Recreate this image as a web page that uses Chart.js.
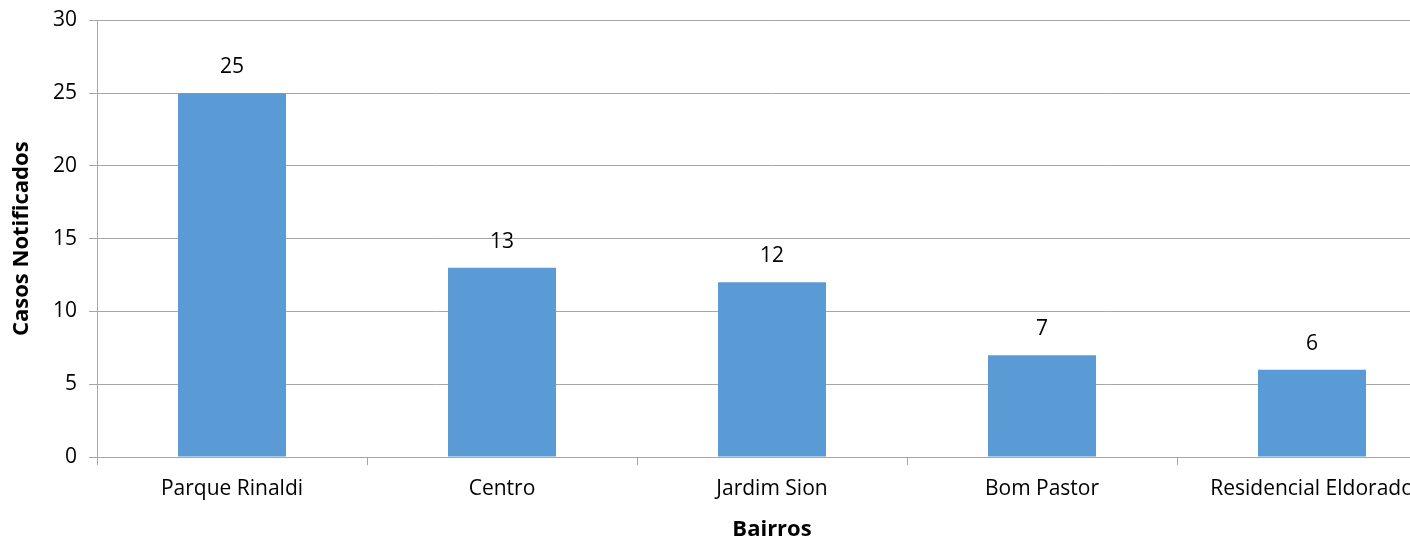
<!DOCTYPE html>
<html>
<head>
<meta charset="utf-8">
<script src="https://cdn.jsdelivr.net/npm/chart.js@4"></script>
<style>
  html, body { margin: 0; padding: 0; background: #fff; overflow: hidden; }
  #wrap { width: 1460px; height: 537px; }
</style>
</head>
<body>
<div id="wrap"><canvas id="myChart"></canvas></div>
<script>
'use strict';

// bairros (categories)
const bairros = ['Parque Rinaldi', 'Centro', 'Jardim Sion', 'Bom Pastor', 'Residencial Eldorado'];
// casos notificados per bairro
const casos = [25, 13, 12, 7, 6];
// y axis range / step
const yMin = 0;
const yMax = 30;
const yStep = 5;

const fontFamily = '"Open Sans", sans-serif';
const gridGray = '#a6a6a6';

// small plugin to write the value above every bar
const valueLabels = {
  id: 'valueLabels',
  afterDatasetsDraw(chart) {
    const ctx = chart.ctx;
    const meta = chart.getDatasetMeta(0);
    ctx.save();
    ctx.fillStyle = '#000';
    ctx.font = '21px ' + fontFamily;
    ctx.textAlign = 'center';
    ctx.textBaseline = 'middle';
    meta.data.forEach(function (bar, i) {
      ctx.fillText(chart.data.datasets[0].data[i], bar.x, bar.y - 26);
    });
    ctx.restore();
  }
};

const ctx = document.getElementById('myChart').getContext('2d');
const myChart = new Chart(ctx, {
  type: 'bar',
  data: {
    labels: bairros,
    datasets: [{
      label: 'Casos Notificados',
      data: casos,
      backgroundColor: '#5b9bd5',
      borderWidth: 0,
      barPercentage: 0.4,
      categoryPercentage: 1.0
    }]
  },
  options: {
    responsive: true,
    maintainAspectRatio: false,
    animation: false,
    layout: { padding: { top: 3, left: 0, right: 13, bottom: -4 } },
    plugins: {
      legend: { display: false },
      tooltip: { enabled: false }
    },
    scales: {
      x: {
        offset: true,
        grid: {
          display: true,
          offset: true,
          drawOnChartArea: false,
          drawTicks: true,
          tickLength: 8,
          color: gridGray
        },
        border: { display: true, color: gridGray },
        ticks: {
          color: '#000',
          font: { family: fontFamily, size: 21, lineHeight: 1.0 },
          padding: 14,
          maxRotation: 0,
          autoSkip: false
        },
        title: {
          display: true,
          text: 'Bairros',
          color: '#000',
          font: { family: fontFamily, size: 22, weight: 'bold', lineHeight: 1.0 },
          padding: { top: 5, bottom: 0 }
        }
      },
      y: {
        min: yMin,
        max: yMax,
        ticks: {
          stepSize: yStep,
          color: '#000',
          font: { family: fontFamily, size: 21, lineHeight: 0.8 },
          padding: 12
        },
        grid: {
          color: gridGray,
          tickLength: 8
        },
        border: { display: true, color: gridGray },
        title: {
          display: true,
          text: 'Casos Notificados',
          color: '#000',
          font: { family: fontFamily, size: 22, weight: 'bold', lineHeight: 1.0 },
          padding: { top: 11, bottom: 8 }
        }
      }
    }
  },
  plugins: [valueLabels]
});
</script>
</body>
</html>
